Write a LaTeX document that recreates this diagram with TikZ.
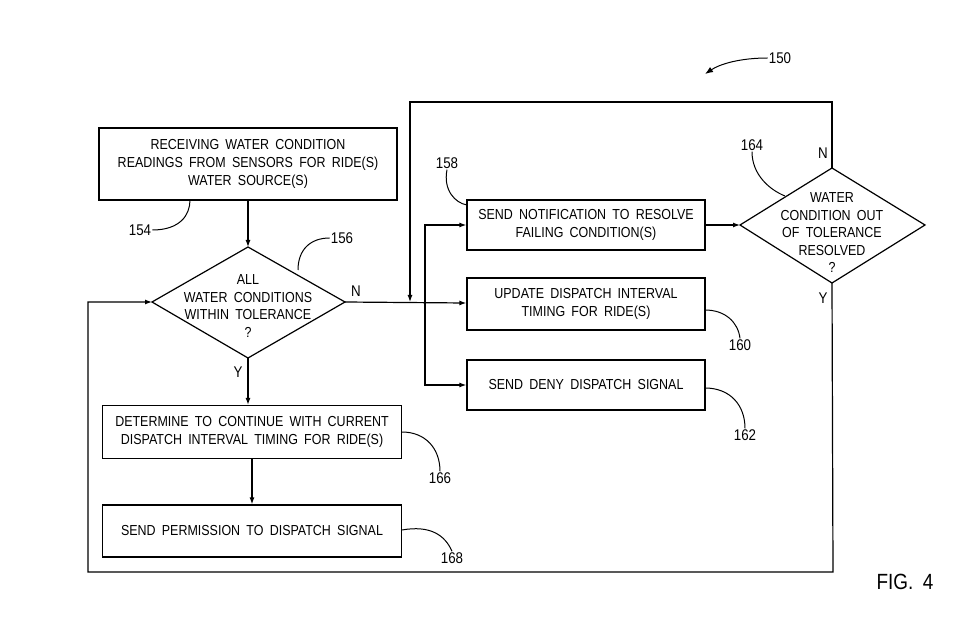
\documentclass[tikz,border=0pt]{standalone}
\usepackage{fontspec}
\setmainfont{Liberation Sans}[FakeStretch=0.86,WordSpace=1.8]
\usetikzlibrary{shapes.geometric,arrows.meta}
\begin{document}
\begin{tikzpicture}[x=1pt,y=-1pt,
  box/.style={draw,line width=1.2pt,align=center,font=\fontsize{14.5}{18}\selectfont,inner sep=0pt},
  dtx/.style={align=center,font=\fontsize{14.5}{17.5}\selectfont,inner sep=0pt},
  ln/.style={line width=1.2pt},
  ar/.style={ln,-{Latex[length=7pt,width=5pt]}},
  lab/.style={font=\fontsize{15.5}{17}\selectfont,inner sep=1pt},
  ld/.style={line width=1pt}]
\useasboundingbox (0,0) rectangle (980,636);
\node[box,minimum width=298pt,minimum height=72pt] (b154) at (248,164) {RECEIVING WATER CONDITION\\READINGS FROM SENSORS FOR RIDE(S)\\WATER SOURCE(S)};
\draw[ln] (152,302) coordinate (d1l) -- (248,247) coordinate (d1t) -- (345,302) coordinate (d1r) -- (248,358) coordinate (d1b) -- cycle;
\node[dtx] (d156) at (248,306) {ALL\\WATER CONDITIONS\\WITHIN TOLERANCE\\?};
\node[box,minimum width=299pt,minimum height=53pt] (b166) at (252,432) {DETERMINE TO CONTINUE WITH CURRENT\\DISPATCH INTERVAL TIMING FOR RIDE(S)};
\node[box,minimum width=299pt,minimum height=52pt] (b168) at (252,531) {SEND PERMISSION TO DISPATCH SIGNAL};
\node[box,minimum width=238pt,minimum height=50pt] (b158) at (586,225) {SEND NOTIFICATION TO RESOLVE\\FAILING CONDITION(S)};
\node[box,minimum width=238pt,minimum height=52pt] (b160) at (586,304) {UPDATE DISPATCH INTERVAL\\TIMING FOR RIDE(S)};
\node[box,minimum width=238pt,minimum height=50pt] (b162) at (586,385) {SEND DENY DISPATCH SIGNAL};
\draw[ln] (740,225) coordinate (d2l) -- (832,168) coordinate (d2t) -- (925,225) coordinate (d2r) -- (832,283) coordinate (d2b) -- cycle;
\node[dtx] (d164) at (832,233) {WATER\\CONDITION OUT\\OF TOLERANCE\\RESOLVED\\?};
% connectors
\draw[ar] (b154) -- (d1t);
\draw[ar] (d1b) -- (d1b |- b166.north);
\draw[ar] (b166) -- (b168);
\draw[ar] (d1r) -- (b160);
\coordinate (j1) at (425,302);
\draw[ar] (j1) |- (b158);
\draw[ar] (j1) |- (b162);
\draw[ar] (b158) -- (d2l);
\coordinate (t1) at (410,102);
\coordinate (t2) at (410,302);
\draw[ar] (d2t) |- (t1) -- (t2);
\coordinate (c1) at (833,572);
\coordinate (c2) at (88,572);
\draw[ar] (d2b) -- (c1) -- (c2) |- (d1l);
% N/Y
\node[lab] (n1) at (356,291) {N};
\node[lab] (y1) at (238,372) {Y};
\node[lab] (n2) at (823,153) {N};
\node[lab] (y2) at (823,298) {Y};
% reference labels
\node[lab] (r150) at (780,58) {150};
\draw[ld,-{Latex[length=8pt,width=6pt]}] (r150.west) .. controls (740,58) and (720,64) .. (705,74);
\node[lab] (r154) at (140,230) {154};
\draw[ld] (r154.east) .. controls (180,230) and (190,215) .. (190,200);
\node[lab] (r156) at (342,238) {156};
\draw[ld] (r156.west) .. controls (310,238) and (298,250) .. (298,270);
\node[lab] (r158) at (447,163) {158};
\draw[ld] (r158.south) .. controls (443,190) and (455,203) .. (467,205);
\node[lab] (r164) at (752,145) {164};
\draw[ld] (r164.south) .. controls (752,175) and (770,190) .. (785,196);
\node[lab] (r160) at (740,345) {160};
\draw[ld] (705,310) .. controls (725,310) and (738,322) .. (r160.north);
\node[lab] (r162) at (745,435) {162};
\draw[ld] (705,388) .. controls (730,388) and (745,405) .. (r162.north);
\node[lab] (r166) at (440,478) {166};
\draw[ld] (402,432) .. controls (425,432) and (440,448) .. (r166.north);
\node[lab] (r168) at (452,558) {168};
\draw[ld] (402,530) .. controls (430,525) and (445,535) .. (r168.north);
\node[font=\fontsize{22}{24}\selectfont] (fig) at (905,582) {FIG. 4};
\end{tikzpicture}
\end{document}
